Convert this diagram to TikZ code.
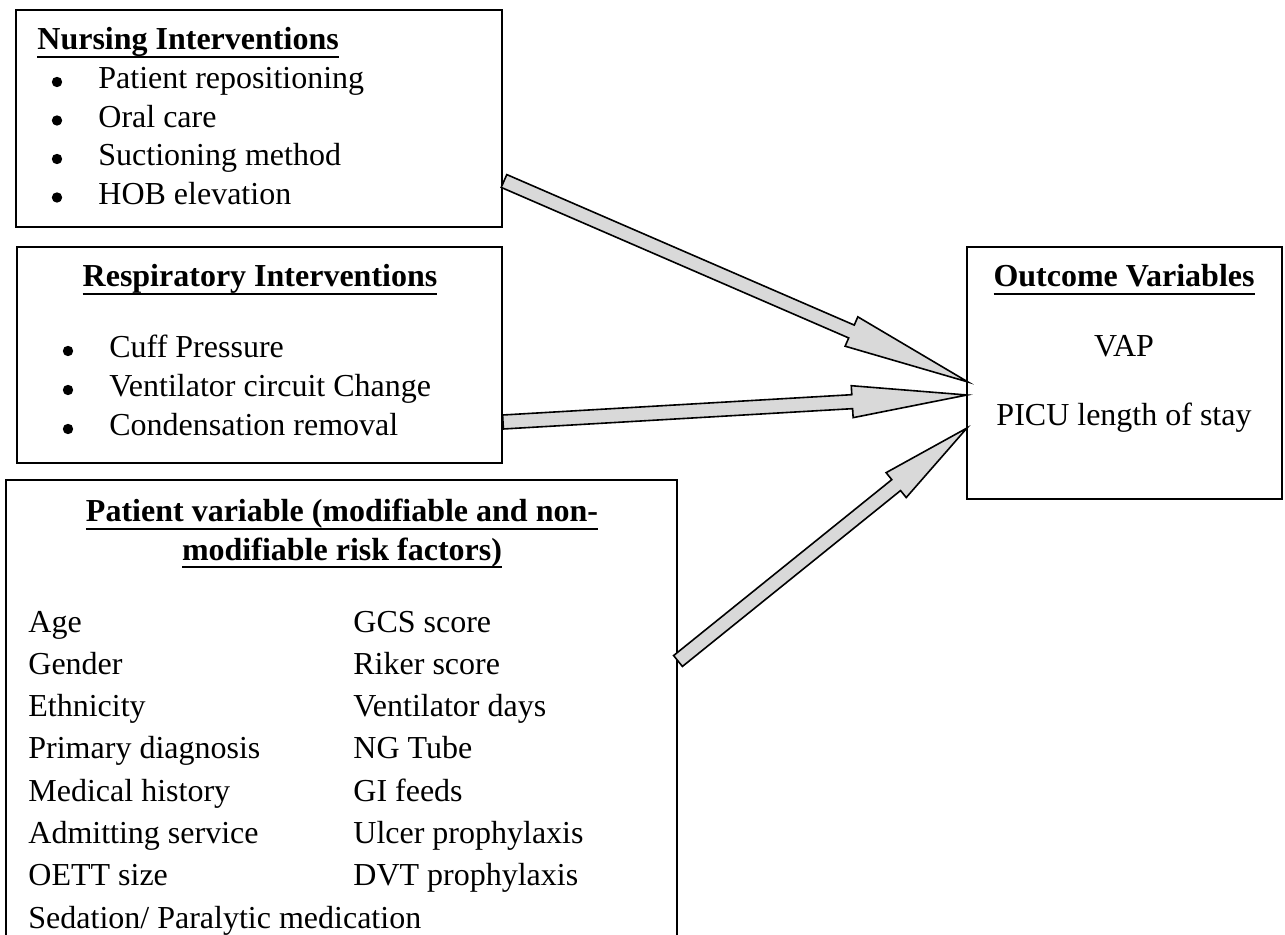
\documentclass[tikz,border=0pt]{standalone}
\usepackage{fontspec}
\setmainfont{Liberation Serif}
\usetikzlibrary{calc}

\newcommand{\bodyfont}{\fontsize{16}{19}\selectfont}
\tikzset{
  box/.style={draw, line width=1pt, inner sep=0pt, outer sep=0pt, anchor=north west},
  txt/.style={anchor=base west, inner sep=0pt},
  head/.style={anchor=base, inner sep=0pt, font=\bodyfont\bfseries},
  dot/.style={circle, fill, inner sep=0pt, minimum size=5.2pt},
  fat/.style={fill=black!15, draw=black, line width=0.8pt, line join=miter},
}
\newcommand{\headul}[1]{\setbox0=\hbox{#1}\rlap{\rule[-4.2pt]{\wd0}{1pt}}\box0}
% wide block arrow: tail, tip, head length
\newcommand{\fatarrow}[3]{%
  \coordinate (fa) at ($(#2)!#3!(#1)$);
  \filldraw[fat] ($(#1)!3.5pt!90:(#2)$) -- ($(fa)!3.5pt!90:(#2)$) -- ($(fa)!8pt!90:(#2)$) -- (#2)
    -- ($(fa)!8pt!-90:(#2)$) -- ($(fa)!3.5pt!-90:(#2)$) -- ($(#1)!3.5pt!-90:(#2)$) -- cycle;
}

\begin{document}
\begin{tikzpicture}[x=0.5pt, y=-0.5pt, font=\bodyfont]
  \useasboundingbox (0,0) rectangle (1285,935);
  \clip (0,0) rectangle (1285,935);
  % boxes
  \node[box, minimum width=243pt, minimum height=108.5pt] (nurse) at (16,10) {};
  \node[box, minimum width=242.5pt, minimum height=108pt] (resp) at (17,247) {};
  \node[box, minimum width=335.5pt, minimum height=240pt] (patient) at (6,480) {};
  \node[box, minimum width=157.5pt, minimum height=126pt] (outcome) at (967,247) {};
  % nursing
  \node[head, anchor=base west] (nurse-h) at (37,50) {\headul{Nursing Interventions}};
  \foreach \t [count=\i] in {Patient repositioning, Oral care, Suctioning method, HOB elevation} {
    \node[dot] (nurse-b\i) at (57,{82+38.5*(\i-1)}) {};
    \node[txt] (nurse-\i) at (98,{89+38.5*(\i-1)}) {\t};
  }
  % respiratory
  \node[head] (resp-h) at (260,287) {\headul{Respiratory Interventions}};
  \foreach \t [count=\i] in {Cuff Pressure, Ventilator circuit Change, Condensation removal} {
    \node[dot] (resp-b\i) at (68,{351+39*(\i-1)}) {};
    \node[txt] (resp-\i) at (109,{358+39*(\i-1)}) {\t};
  }
  % outcome
  \node[head] (out-h) at (1124,287) {\headul{Outcome Variables}};
  \node[anchor=base, inner sep=0pt] (vap) at (1124,357) {VAP};
  \node[anchor=base, inner sep=0pt] (picu) at (1124,426) {PICU length of stay};
  % patient
  \node[head] (pat-h1) at (342,522) {\headul{Patient variable (modifiable and non-}};
  \node[head] (pat-h2) at (342,560) {\headul{modifiable risk factors)}};
  \foreach \l/\r [count=\i] in {Age/GCS score, Gender/Riker score, Ethnicity/Ventilator days,
      Primary diagnosis/NG Tube, Medical history/GI feeds, Admitting service/Ulcer prophylaxis,
      OETT size/DVT prophylaxis} {
    \node[txt] (pat-l\i) at (28,{632+42.3*(\i-1)}) {\l};
    \node[txt] (pat-r\i) at (353,{632+42.3*(\i-1)}) {\r};
  }
  \node[txt] (pat-l8) at (28,928) {Sedation/ Paralytic medication};
  % arrows
  \coordinate (n-out) at ($(nurse.east)+(2,62.5)$);
  \coordinate (r-out) at ($(resp.east)+(1,67)$);
  \coordinate (p-out) at ($(patient.north east)+(1,181)$);
  \coordinate (o-in1) at ($(outcome.west)+(1,9)$);
  \coordinate (o-in2) at ($(outcome.west)+(0,22)$);
  \coordinate (o-in3) at ($(outcome.west)+(0,55)$);
  \fatarrow{n-out}{o-in1}{63.5pt}
  \fatarrow{r-out}{o-in2}{57.5pt}
  \fatarrow{p-out}{o-in3}{45.5pt}
\end{tikzpicture}
\end{document}
